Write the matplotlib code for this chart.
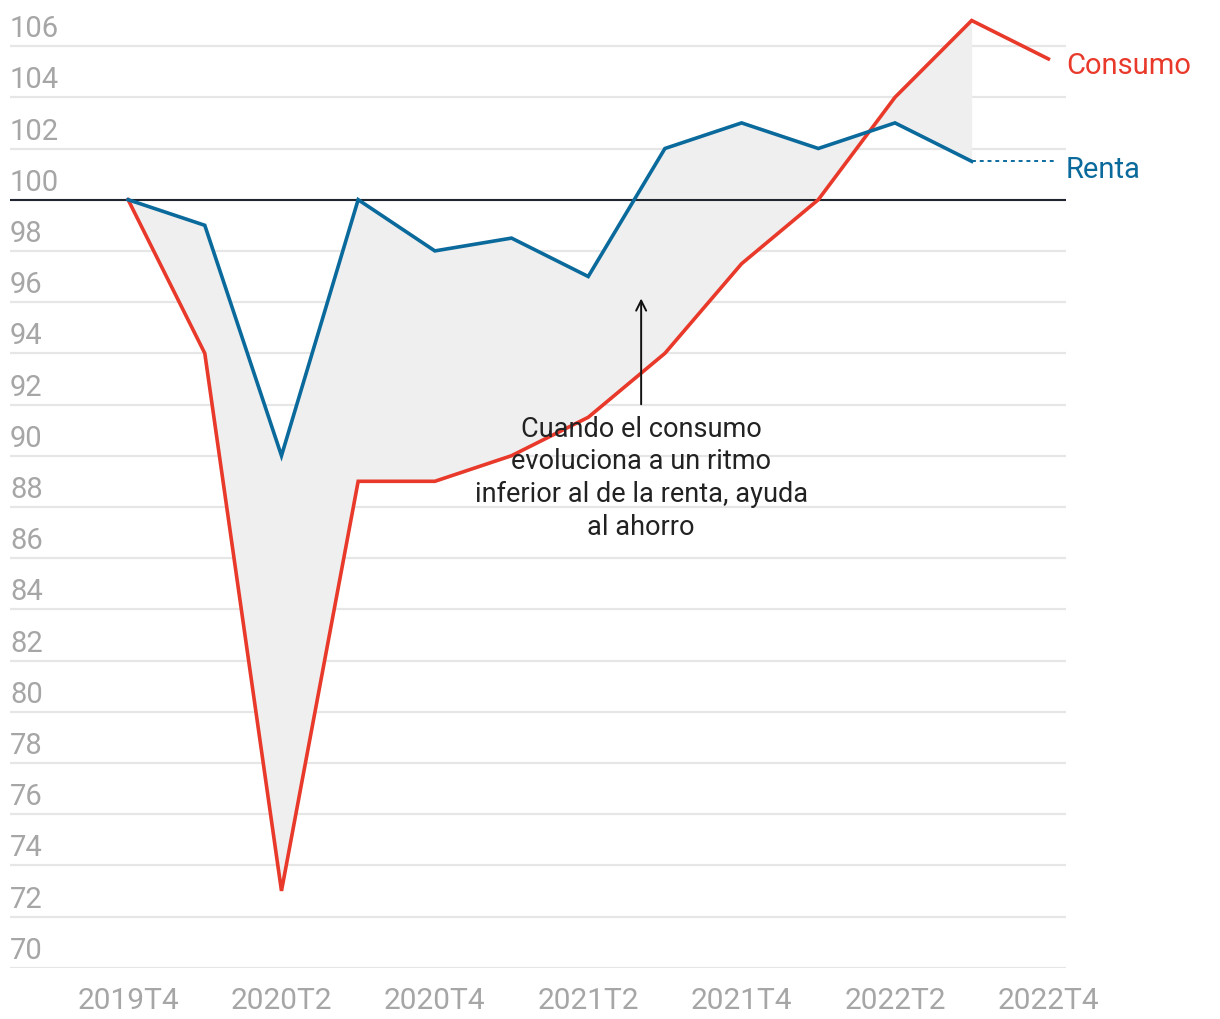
import matplotlib
matplotlib.use("Agg")
import matplotlib.pyplot as plt
import matplotlib.transforms as mtransforms

plt.rcParams['font.family'] = ['Roboto', 'DejaVu Sans']

# quarters 2019T4 .. 2022T4
quarters = ['2019T4', '2020T1', '2020T2', '2020T3', '2020T4', '2021T1', '2021T2',
            '2021T3', '2021T4', '2022T1', '2022T2', '2022T3', '2022T4']
consumo = [100, 94, 73, 89, 89, 90, 91.5, 94, 97.5, 100, 104, 107, 105.5]
renta = [100, 99, 90, 100, 98, 98.5, 97, 102, 103, 102, 103, 101.5]
yticks = list(range(70, 107, 2))
xtick_labels = quarters[::2]

RED = '#e8392a'
BLUE = '#0b6a9c'
GREY_TXT = '#a6a6a6'

fig = plt.figure(figsize=(12.2, 10.2), dpi=100)
ax = fig.add_axes([10 / 1220, (1020 - 968.7) / 1020, (1066 - 10) / 1220, 968.7 / 1020])
ax.set_xlim(-1.54, 12.23)
ax.set_ylim(70, 107.84)
ax.axis('off')

x = list(range(len(quarters)))
xr = x[:len(renta)]

# grid + baseline at 100
for v in yticks:
    ax.axhline(v, color='#e6e6e6', lw=1.6, zorder=0)
ax.axhline(100, color='#1f2630', lw=1.5, zorder=3)

trans = mtransforms.blended_transform_factory(ax.transAxes, ax.transData)
for v in yticks:
    ax.text(0, v + 0.15, str(v), transform=trans, ha='left', va='bottom',
            fontsize=21, color=GREY_TXT)

for i, lab in enumerate(quarters):
    if lab in xtick_labels:
        ax.text(i, 69.3, lab, ha='center', va='top', fontsize=21.5,
                color=GREY_TXT, clip_on=False)

# area between series
ax.fill_between(xr, renta, consumo[:len(renta)], color='#efefef', lw=0, zorder=1)

ax.plot(x, consumo, color=RED, lw=2.6, zorder=4, solid_joinstyle='miter')
ax.plot(xr, renta, color=BLUE, lw=2.6, zorder=4, solid_joinstyle='miter')
ax.plot([xr[-1], len(quarters) - 1 + 0.1], [renta[-1], renta[-1]], color=BLUE,
        lw=1.4, ls=(0, (2, 2)), zorder=4)

ax.text(12.23, consumo[-1] - 0.25, 'Consumo', color=RED, fontsize=21,
        ha='left', va='center', clip_on=False)
ax.text(12.23, renta[-1] - 0.3, 'Renta', color=BLUE, fontsize=21,
        ha='left', va='center', clip_on=False)

# annotation
ax.annotate('', xy=(6.69, 96.25), xytext=(6.69, 91.9),
            arrowprops=dict(arrowstyle='->', color='#111111', lw=1.4,
                            mutation_scale=18), zorder=5)
ax.text(6.69, 91.6, 'Cuando el consumo\nevoluciona a un ritmo\ninferior al de la renta, ayuda\nal ahorro',
        ha='center', va='top', fontsize=19.5, color='#222222', linespacing=1.27, zorder=5)

fig.savefig('out.png', dpi=100)
